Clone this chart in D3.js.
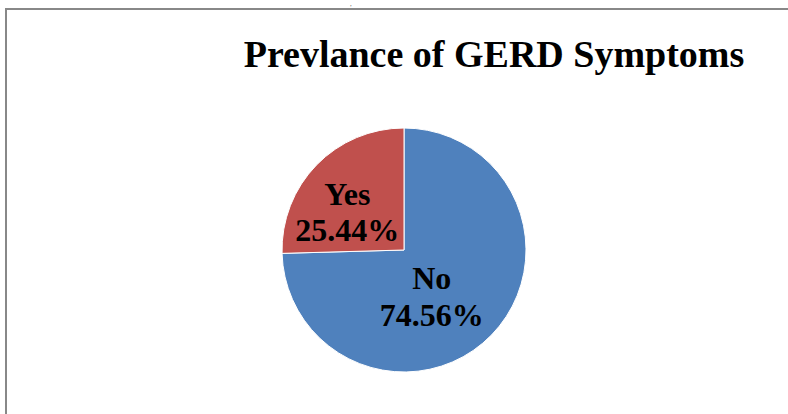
<!DOCTYPE html>
<html>
<head>
  <meta charset="utf-8">
  <title>Prevlance of GERD Symptoms</title>
  <script src="https://d3js.org/d3.v7.min.js"></script>
  <style>
    body {
      margin: 0;
      background: #fff;
    }
    svg {
      display: block;
      font-family: "Liberation Serif", "Times New Roman", serif;
    }
    .title {
      font-size: 38px;
      font-weight: bold;
      fill: #000;
    }
    .slice {
      stroke: #fff;
      stroke-width: 1px;
    }
    .label {
      font-size: 32px;
      font-weight: bold;
      fill: #000;
    }
  </style>
</head>
<body>
  <div id="chart"></div>

  <script>
    // chart data
    const categories = ["No", "Yes"];
    const values = [74.56, 25.44];
    const colors = ["#4f81bd", "#c0504d"];
    const title = "Prevlance of GERD Symptoms";

    const width = 788,
          height = 414;

    const svg = d3.select("#chart")
      .append("svg")
      .attr("width", width)
      .attr("height", height);

    // chart frame (runs off the right and bottom of the picture)
    svg.append("rect")
      .attr("x", 6)
      .attr("y", 9)
      .attr("width", width + 20)
      .attr("height", height + 20)
      .attr("fill", "none")
      .attr("stroke", "#888")
      .attr("stroke-width", 2);

    // stray mark above the frame
    svg.append("text")
      .attr("x", 350)
      .attr("y", 6)
      .style("font-size", "7px")
      .style("fill", "#555")
      .text(",");

    // title
    svg.append("text")
      .attr("class", "title")
      .attr("x", 494)
      .attr("y", 67)
      .attr("text-anchor", "middle")
      .text(title);

    // pie
    const cx = 404, cy = 250, radius = 122;
    const g = svg.append("g").attr("transform", `translate(${cx},${cy})`);

    const data = categories.map((c, i) => ({ name: c, value: values[i], color: colors[i] }));

    const pie = d3.pie()
      .sort(null)
      .value(d => d.value);

    const arc = d3.arc()
      .innerRadius(0)
      .outerRadius(radius);

    const arcs = pie(data);

    g.selectAll(".slice")
      .data(arcs)
      .enter()
      .append("path")
      .attr("class", "slice")
      .attr("d", arc)
      .attr("fill", d => d.data.color);

    // data labels: centroid on a label arc, nudged like the original's best-fit placement
    const labelArc = d3.arc()
      .innerRadius(radius * 0.5)
      .outerRadius(radius * 0.5);
    const nudge = { No: [-16, 1], Yes: [-13, 2] };

    const labels = g.selectAll(".label-group")
      .data(arcs)
      .enter()
      .append("text")
      .attr("class", "label")
      .attr("text-anchor", "middle")
      .attr("transform", d => {
        const [x, y] = labelArc.centroid(d);
        const [dx, dy] = nudge[d.data.name];
        return `translate(${x + dx},${y + dy})`;
      });

    labels.append("tspan")
      .attr("x", 0)
      .attr("dy", "-0.15em")
      .text(d => d.data.name);

    labels.append("tspan")
      .attr("x", 0)
      .attr("dy", "1.15em")
      .text(d => d.data.value.toFixed(2) + "%");
  </script>
</body>
</html>
